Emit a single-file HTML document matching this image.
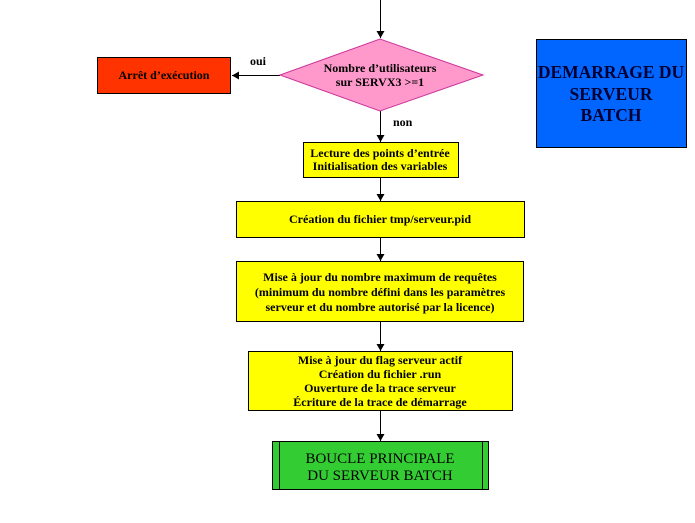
<!DOCTYPE html>
<html><head><meta charset="utf-8"><style>body{margin:0;background:#fff}svg{display:block}text{font-family:"Liberation Serif",serif;font-weight:bold;font-size:12px;fill:#000}</style></head><body>
<svg width="695" height="523" viewBox="0 0 695 523">
<defs><marker id="a" markerWidth="8" markerHeight="8" refX="7" refY="4" orient="auto" markerUnits="userSpaceOnUse"><path d="M0,0 L7,4 L0,8 Z" fill="#000"/></marker></defs>
<g stroke="#000" stroke-width="1" fill="none">
<line x1="380.5" y1="0" x2="380.5" y2="38" marker-end="url(#a)"/>
<line x1="280" y1="75.5" x2="232" y2="75.5" marker-end="url(#a)"/>
<line x1="380.5" y1="111" x2="380.5" y2="142" marker-end="url(#a)"/>
<line x1="380.5" y1="177" x2="380.5" y2="201" marker-end="url(#a)"/>
<line x1="380.5" y1="237" x2="380.5" y2="261" marker-end="url(#a)"/>
<line x1="380.5" y1="321" x2="380.5" y2="351" marker-end="url(#a)"/>
<line x1="380.5" y1="410" x2="380.5" y2="441" marker-end="url(#a)"/>
</g>
<polygon points="380,39 483,75 380,111 280,75" fill="#ff99cc" stroke="#cc3399" stroke-width="1"/>
<rect x="97.5" y="57.5" width="133" height="36" fill="#ff3300" stroke="#000"/>
<rect x="303.5" y="142.5" width="155" height="35" fill="#ffff00" stroke="#000"/>
<rect x="236.5" y="201.5" width="288" height="36" fill="#ffff00" stroke="#000"/>
<rect x="236.5" y="261.5" width="287" height="60" fill="#ffff00" stroke="#000"/>
<rect x="248.5" y="351.5" width="264" height="59" fill="#ffff00" stroke="#000"/>
<rect x="272.5" y="441.5" width="216" height="48" fill="#33cc33" stroke="#000"/>
<line x1="279.5" y1="441" x2="279.5" y2="490" stroke="#000"/>
<line x1="482.5" y1="441" x2="482.5" y2="490" stroke="#000"/>
<rect x="536.5" y="39.5" width="150" height="108" fill="#0066ff" stroke="#000"/>
<text x="250" y="65">oui</text>
<text x="393" y="126">non</text>
<g text-anchor="middle">
<text x="164" y="79">Arrêt d’exécution</text>
<text x="380" y="72">Nombre d’utilisateurs</text>
<text x="380" y="86">sur SERVX3 &gt;=1</text>
<text x="380" y="157">Lecture des points d’entrée</text>
<text x="380" y="170">Initialisation des variables</text>
<text x="380" y="223">Création du fichier  tmp/serveur.pid</text>
<text x="380" y="281">Mise à jour du nombre maximum de requêtes</text>
<text x="380" y="296">(minimum du nombre défini dans les paramètres</text>
<text x="380" y="311">serveur et du nombre autorisé par la licence)</text>
<text x="380" y="364">Mise à jour du flag serveur actif</text>
<text x="380" y="378">Création du fichier .run</text>
<text x="380" y="392">Ouverture de la trace serveur</text>
<text x="380" y="406">Écriture de la trace de démarrage</text>
<text x="380" y="463" style="font-size:15px;font-weight:normal">BOUCLE PRINCIPALE</text>
<text x="380" y="480" style="font-size:15px;font-weight:normal">DU SERVEUR BATCH</text>
<text x="611" y="78" style="font-size:17.5px;fill:#000033">DEMARRAGE DU</text>
<text x="611" y="100" style="font-size:17.5px;fill:#000033">SERVEUR</text>
<text x="611" y="121" style="font-size:17.5px;fill:#000033">BATCH</text>
</g>
</svg>
</body></html>
